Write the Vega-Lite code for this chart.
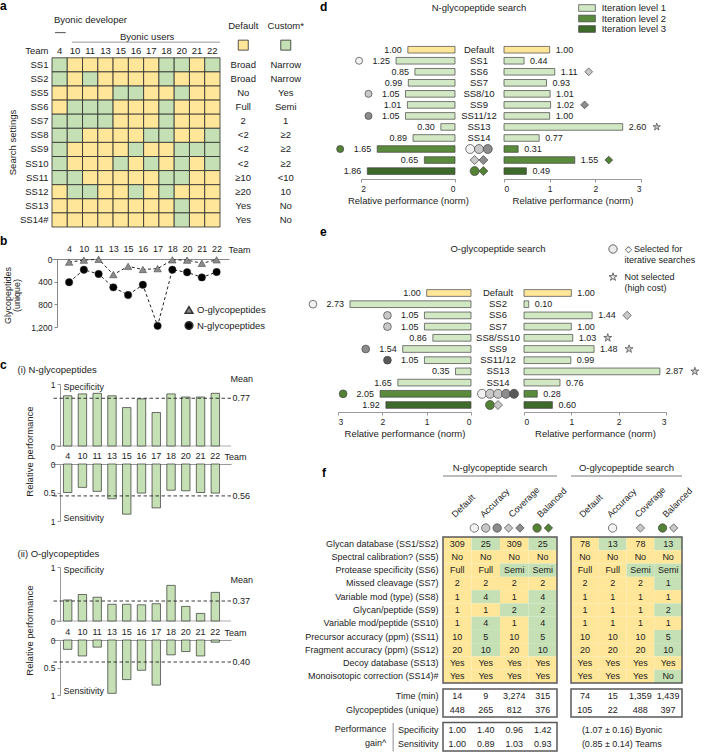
{
"$schema": "https://vega.github.io/schema/vega-lite/v6.json",
"padding": 0,
"background": "white",
"config": {
  "font": "Liberation Sans",
  "view": {"stroke": null},
  "axis": {"labelFontSize": 8.5, "titleFontSize": 9, "titleFontWeight": "normal", "labelColor": "#222", "titleColor": "#222", "domainColor": "#999", "tickColor": "#999", "grid": false, "labelFont": "Liberation Sans", "titleFont": "Liberation Sans"},
  "legend": {"labelFontSize": 9, "labelColor": "#222", "labelFont": "Liberation Sans"},
  "text": {"fontSize": 9, "color": "#222"},
  "title": {"fontSize": 12, "fontWeight": "bold", "anchor": "start", "frame": "group", "color": "#000"}
},
"datasets": {
  "grid": [
    {"t":"4","s":"SS1","c":"C"},{"t":"10","s":"SS1","c":"D"},{"t":"11","s":"SS1","c":"D"},{"t":"13","s":"SS1","c":"D"},{"t":"15","s":"SS1","c":"D"},{"t":"16","s":"SS1","c":"D"},{"t":"17","s":"SS1","c":"D"},{"t":"18","s":"SS1","c":"C"},{"t":"20","s":"SS1","c":"C"},{"t":"21","s":"SS1","c":"D"},{"t":"22","s":"SS1","c":"C"},
    {"t":"4","s":"SS2","c":"C"},{"t":"10","s":"SS2","c":"D"},{"t":"11","s":"SS2","c":"C"},{"t":"13","s":"SS2","c":"D"},{"t":"15","s":"SS2","c":"D"},{"t":"16","s":"SS2","c":"D"},{"t":"17","s":"SS2","c":"D"},{"t":"18","s":"SS2","c":"C"},{"t":"20","s":"SS2","c":"D"},{"t":"21","s":"SS2","c":"D"},{"t":"22","s":"SS2","c":"D"},
    {"t":"4","s":"SS5","c":"D"},{"t":"10","s":"SS5","c":"D"},{"t":"11","s":"SS5","c":"D"},{"t":"13","s":"SS5","c":"D"},{"t":"15","s":"SS5","c":"C"},{"t":"16","s":"SS5","c":"C"},{"t":"17","s":"SS5","c":"D"},{"t":"18","s":"SS5","c":"D"},{"t":"20","s":"SS5","c":"C"},{"t":"21","s":"SS5","c":"D"},{"t":"22","s":"SS5","c":"D"},
    {"t":"4","s":"SS6","c":"D"},{"t":"10","s":"SS6","c":"C"},{"t":"11","s":"SS6","c":"C"},{"t":"13","s":"SS6","c":"C"},{"t":"15","s":"SS6","c":"D"},{"t":"16","s":"SS6","c":"D"},{"t":"17","s":"SS6","c":"D"},{"t":"18","s":"SS6","c":"C"},{"t":"20","s":"SS6","c":"D"},{"t":"21","s":"SS6","c":"D"},{"t":"22","s":"SS6","c":"D"},
    {"t":"4","s":"SS7","c":"C"},{"t":"10","s":"SS7","c":"C"},{"t":"11","s":"SS7","c":"C"},{"t":"13","s":"SS7","c":"C"},{"t":"15","s":"SS7","c":"D"},{"t":"16","s":"SS7","c":"D"},{"t":"17","s":"SS7","c":"D"},{"t":"18","s":"SS7","c":"C"},{"t":"20","s":"SS7","c":"D"},{"t":"21","s":"SS7","c":"D"},{"t":"22","s":"SS7","c":"D"},
    {"t":"4","s":"SS8","c":"C"},{"t":"10","s":"SS8","c":"C"},{"t":"11","s":"SS8","c":"D"},{"t":"13","s":"SS8","c":"D"},{"t":"15","s":"SS8","c":"D"},{"t":"16","s":"SS8","c":"D"},{"t":"17","s":"SS8","c":"C"},{"t":"18","s":"SS8","c":"C"},{"t":"20","s":"SS8","c":"D"},{"t":"21","s":"SS8","c":"D"},{"t":"22","s":"SS8","c":"C"},
    {"t":"4","s":"SS9","c":"C"},{"t":"10","s":"SS9","c":"D"},{"t":"11","s":"SS9","c":"D"},{"t":"13","s":"SS9","c":"D"},{"t":"15","s":"SS9","c":"D"},{"t":"16","s":"SS9","c":"C"},{"t":"17","s":"SS9","c":"D"},{"t":"18","s":"SS9","c":"D"},{"t":"20","s":"SS9","c":"C"},{"t":"21","s":"SS9","c":"C"},{"t":"22","s":"SS9","c":"C"},
    {"t":"4","s":"SS10","c":"C"},{"t":"10","s":"SS10","c":"D"},{"t":"11","s":"SS10","c":"D"},{"t":"13","s":"SS10","c":"D"},{"t":"15","s":"SS10","c":"C"},{"t":"16","s":"SS10","c":"D"},{"t":"17","s":"SS10","c":"C"},{"t":"18","s":"SS10","c":"D"},{"t":"20","s":"SS10","c":"C"},{"t":"21","s":"SS10","c":"D"},{"t":"22","s":"SS10","c":"C"},
    {"t":"4","s":"SS11","c":"C"},{"t":"10","s":"SS11","c":"C"},{"t":"11","s":"SS11","c":"D"},{"t":"13","s":"SS11","c":"D"},{"t":"15","s":"SS11","c":"D"},{"t":"16","s":"SS11","c":"D"},{"t":"17","s":"SS11","c":"D"},{"t":"18","s":"SS11","c":"C"},{"t":"20","s":"SS11","c":"C"},{"t":"21","s":"SS11","c":"D"},{"t":"22","s":"SS11","c":"D"},
    {"t":"4","s":"SS12","c":"D"},{"t":"10","s":"SS12","c":"C"},{"t":"11","s":"SS12","c":"C"},{"t":"13","s":"SS12","c":"D"},{"t":"15","s":"SS12","c":"D"},{"t":"16","s":"SS12","c":"C"},{"t":"17","s":"SS12","c":"D"},{"t":"18","s":"SS12","c":"C"},{"t":"20","s":"SS12","c":"D"},{"t":"21","s":"SS12","c":"D"},{"t":"22","s":"SS12","c":"D"},
    {"t":"4","s":"SS13","c":"D"},{"t":"10","s":"SS13","c":"D"},{"t":"11","s":"SS13","c":"D"},{"t":"13","s":"SS13","c":"D"},{"t":"15","s":"SS13","c":"D"},{"t":"16","s":"SS13","c":"D"},{"t":"17","s":"SS13","c":"D"},{"t":"18","s":"SS13","c":"D"},{"t":"20","s":"SS13","c":"C"},{"t":"21","s":"SS13","c":"D"},{"t":"22","s":"SS13","c":"D"},
    {"t":"4","s":"SS14#","c":"D"},{"t":"10","s":"SS14#","c":"D"},{"t":"11","s":"SS14#","c":"D"},{"t":"13","s":"SS14#","c":"D"},{"t":"15","s":"SS14#","c":"D"},{"t":"16","s":"SS14#","c":"D"},{"t":"17","s":"SS14#","c":"D"},{"t":"18","s":"SS14#","c":"D"},{"t":"20","s":"SS14#","c":"C"},{"t":"21","s":"SS14#","c":"D"},{"t":"22","s":"SS14#","c":"D"}
  ],
  "akey": [
    {"s":"SS1","col":"Default","txt":"Broad"},{"s":"SS1","col":"Custom*","txt":"Narrow"},
    {"s":"SS2","col":"Default","txt":"Broad"},{"s":"SS2","col":"Custom*","txt":"Narrow"},
    {"s":"SS5","col":"Default","txt":"No"},{"s":"SS5","col":"Custom*","txt":"Yes"},
    {"s":"SS6","col":"Default","txt":"Full"},{"s":"SS6","col":"Custom*","txt":"Semi"},
    {"s":"SS7","col":"Default","txt":"2"},{"s":"SS7","col":"Custom*","txt":"1"},
    {"s":"SS8","col":"Default","txt":"<2"},{"s":"SS8","col":"Custom*","txt":"≥2"},
    {"s":"SS9","col":"Default","txt":"<2"},{"s":"SS9","col":"Custom*","txt":"≥2"},
    {"s":"SS10","col":"Default","txt":"<2"},{"s":"SS10","col":"Custom*","txt":"≥2"},
    {"s":"SS11","col":"Default","txt":"≥10"},{"s":"SS11","col":"Custom*","txt":"<10"},
    {"s":"SS12","col":"Default","txt":"≥20"},{"s":"SS12","col":"Custom*","txt":"10"},
    {"s":"SS13","col":"Default","txt":"Yes"},{"s":"SS13","col":"Custom*","txt":"No"},
    {"s":"SS14#","col":"Default","txt":"Yes"},{"s":"SS14#","col":"Custom*","txt":"No"}
  ],
  "akeyhdr": [{"col":"Default","c":"D"},{"col":"Custom*","c":"C"}],
  "glyco": [
    {"team":"4","type":"O-glycopeptides","n":55},{"team":"10","type":"O-glycopeptides","n":20},{"team":"11","type":"O-glycopeptides","n":5},{"team":"13","type":"O-glycopeptides","n":275},{"team":"15","type":"O-glycopeptides","n":130},{"team":"16","type":"O-glycopeptides","n":185},{"team":"17","type":"O-glycopeptides","n":170},{"team":"18","type":"O-glycopeptides","n":15},{"team":"20","type":"O-glycopeptides","n":20},{"team":"21","type":"O-glycopeptides","n":75},{"team":"22","type":"O-glycopeptides","n":15},
    {"team":"4","type":"N-glycopeptides","n":410},{"team":"10","type":"N-glycopeptides","n":190},{"team":"11","type":"N-glycopeptides","n":265},{"team":"13","type":"N-glycopeptides","n":500},{"team":"15","type":"N-glycopeptides","n":635},{"team":"16","type":"N-glycopeptides","n":455},{"team":"17","type":"N-glycopeptides","n":1180},{"team":"18","type":"N-glycopeptides","n":190},{"team":"20","type":"N-glycopeptides","n":235},{"team":"21","type":"N-glycopeptides","n":325},{"team":"22","type":"N-glycopeptides","n":230}
  ],
  "cNs": [{"team":"4","v":0.81},{"team":"10","v":0.84},{"team":"11","v":0.85},{"team":"13","v":0.81},{"team":"15","v":0.62},{"team":"16","v":0.76},{"team":"17","v":0.54},{"team":"18","v":0.84},{"team":"20","v":0.79},{"team":"21","v":0.79},{"team":"22","v":0.85}],
  "cNn": [{"team":"4","v":0.50},{"team":"10","v":0.41},{"team":"11","v":0.48},{"team":"13","v":0.61},{"team":"15","v":0.88},{"team":"16","v":0.51},{"team":"17","v":0.77},{"team":"18","v":0.46},{"team":"20","v":0.47},{"team":"21","v":0.50},{"team":"22","v":0.51}],
  "cOs": [{"team":"4","v":0.39},{"team":"10","v":0.49},{"team":"11","v":0.44},{"team":"13","v":0.31},{"team":"15","v":0.31},{"team":"16","v":0.30},{"team":"17","v":0.32},{"team":"18","v":0.66},{"team":"20","v":0.27},{"team":"21","v":0.14},{"team":"22","v":0.53}],
  "cOn": [{"team":"4","v":0.17},{"team":"10","v":0.29},{"team":"11","v":0.13},{"team":"13","v":0.97},{"team":"15","v":0.72},{"team":"16","v":0.55},{"team":"17","v":0.82},{"team":"18","v":0.27},{"team":"20","v":0.21},{"team":"21","v":0.29},{"team":"22","v":0.04}],
  "mNs": [{"v":0.77}], "mNn": [{"v":0.56}], "mOs": [{"v":0.37}], "mOn": [{"v":0.40}],
  "d": [
    {"row":"Default","spec":1.00,"sens":1.00,"level":"Default"},
    {"row":"SS1","spec":1.25,"sens":0.44,"level":"Iteration level 1"},
    {"row":"SS6","spec":0.85,"sens":1.11,"level":"Iteration level 1"},
    {"row":"SS7","spec":0.99,"sens":0.93,"level":"Iteration level 1"},
    {"row":"SS8/10","spec":1.05,"sens":1.01,"level":"Iteration level 1"},
    {"row":"SS9","spec":1.01,"sens":1.02,"level":"Iteration level 1"},
    {"row":"SS11/12","spec":1.05,"sens":1.00,"level":"Iteration level 1"},
    {"row":"SS13","spec":0.30,"sens":2.60,"level":"Iteration level 1"},
    {"row":"SS14","spec":0.89,"sens":0.77,"level":"Iteration level 1"},
    {"row":"L2a","spec":1.65,"sens":0.31,"level":"Iteration level 2"},
    {"row":"L2b","spec":0.65,"sens":1.55,"level":"Iteration level 2"},
    {"row":"L3","spec":1.86,"sens":0.49,"level":"Iteration level 3"}
  ],
  "dMS": [
    {"row":"SS1","val":1.25,"shape":"circle","shade":"white"},
    {"row":"SS8/10","val":1.05,"shape":"circle","shade":"light"},
    {"row":"SS11/12","val":1.05,"shape":"circle","shade":"mid"},
    {"row":"L2a","val":1.65,"shape":"circle","shade":"green"}
  ],
  "dMR": [
    {"row":"SS6","val":1.11,"shape":"diamond","shade":"light"},
    {"row":"SS9","val":1.02,"shape":"diamond","shade":"mid"},
    {"row":"SS13","val":2.60,"shape":"star","shade":"light"},
    {"row":"L2b","val":1.55,"shape":"diamond","shade":"green"}
  ],
  "dMM": [
    {"row":"L2a","slot":"a","shape":"circle","shade":"white"},
    {"row":"L2a","slot":"b","shape":"circle","shade":"light"},
    {"row":"L2a","slot":"c","shape":"circle","shade":"mid"},
    {"row":"L2b","slot":"p","shape":"diamond","shade":"light"},
    {"row":"L2b","slot":"q","shape":"diamond","shade":"mid"},
    {"row":"L3","slot":"p","shape":"circle","shade":"green"},
    {"row":"L3","slot":"q","shape":"diamond","shade":"green"}
  ],
  "e": [
    {"row":"Default","spec":1.00,"sens":1.00,"level":"Default"},
    {"row":"SS2","spec":2.73,"sens":0.10,"level":"Iteration level 1"},
    {"row":"SS6","spec":1.05,"sens":1.44,"level":"Iteration level 1"},
    {"row":"SS7","spec":1.05,"sens":1.00,"level":"Iteration level 1"},
    {"row":"SS8/SS10","spec":0.86,"sens":1.03,"level":"Iteration level 1"},
    {"row":"SS9","spec":1.54,"sens":1.48,"level":"Iteration level 1"},
    {"row":"SS11/12","spec":1.05,"sens":0.99,"level":"Iteration level 1"},
    {"row":"SS13","spec":0.35,"sens":2.87,"level":"Iteration level 1"},
    {"row":"SS14","spec":1.65,"sens":0.76,"level":"Iteration level 1"},
    {"row":"L2","spec":2.05,"sens":0.28,"level":"Iteration level 2"},
    {"row":"L3","spec":1.92,"sens":0.60,"level":"Iteration level 3"}
  ],
  "eMS": [
    {"row":"SS2","val":2.73,"shape":"circle","shade":"white"},
    {"row":"SS6","val":1.05,"shape":"circle","shade":"light"},
    {"row":"SS7","val":1.05,"shape":"circle","shade":"light"},
    {"row":"SS9","val":1.54,"shape":"circle","shade":"mid"},
    {"row":"SS11/12","val":1.05,"shape":"circle","shade":"dark"},
    {"row":"L2","val":2.05,"shape":"circle","shade":"green"}
  ],
  "eMR": [
    {"row":"SS6","val":1.44,"shape":"diamond","shade":"light"},
    {"row":"SS8/SS10","val":1.03,"shape":"star","shade":"light"},
    {"row":"SS9","val":1.48,"shape":"star","shade":"light"},
    {"row":"SS13","val":2.87,"shape":"star","shade":"light"}
  ],
  "eMM": [
    {"row":"L2","slot":"a","shape":"circle","shade":"white"},
    {"row":"L2","slot":"b","shape":"circle","shade":"light"},
    {"row":"L2","slot":"c","shape":"circle","shade":"light"},
    {"row":"L2","slot":"d","shape":"circle","shade":"mid"},
    {"row":"L2","slot":"e","shape":"circle","shade":"dark"},
    {"row":"L3","slot":"b","shape":"circle","shade":"green"},
    {"row":"L3","slot":"c","shape":"diamond","shade":"light"}
  ],
  "fcols": [{"c":"Default"},{"c":"Accuracy"},{"c":"Coverage"},{"c":"Balanced"}],
  "fMark": [
    {"t":"N","c":"Accuracy","slot":"a","shape":"circle","shade":"white"},
    {"t":"N","c":"Accuracy","slot":"b","shape":"circle","shade":"light"},
    {"t":"N","c":"Accuracy","slot":"c","shape":"circle","shade":"mid"},
    {"t":"N","c":"Coverage","slot":"p","shape":"diamond","shade":"light"},
    {"t":"N","c":"Coverage","slot":"q","shape":"diamond","shade":"mid"},
    {"t":"N","c":"Balanced","slot":"p","shape":"circle","shade":"green"},
    {"t":"N","c":"Balanced","slot":"q","shape":"diamond","shade":"green"},
    {"t":"O","c":"Accuracy","slot":"b","shape":"circle","shade":"white"},
    {"t":"O","c":"Coverage","slot":"b","shape":"diamond","shade":"light"},
    {"t":"O","c":"Balanced","slot":"p","shape":"circle","shade":"green"},
    {"t":"O","c":"Balanced","slot":"q","shape":"diamond","shade":"light"}
  ],
  "fTab": [
    {"t":"N","r":"Glycan database (SS1/SS2)","c":"Default","v":"309","k":"D"},{"t":"N","r":"Glycan database (SS1/SS2)","c":"Accuracy","v":"25","k":"C"},{"t":"N","r":"Glycan database (SS1/SS2)","c":"Coverage","v":"309","k":"D"},{"t":"N","r":"Glycan database (SS1/SS2)","c":"Balanced","v":"25","k":"C"},
    {"t":"N","r":"Spectral calibration? (SS5)","c":"Default","v":"No","k":"D"},{"t":"N","r":"Spectral calibration? (SS5)","c":"Accuracy","v":"No","k":"D"},{"t":"N","r":"Spectral calibration? (SS5)","c":"Coverage","v":"No","k":"D"},{"t":"N","r":"Spectral calibration? (SS5)","c":"Balanced","v":"No","k":"D"},
    {"t":"N","r":"Protease specificity (SS6)","c":"Default","v":"Full","k":"D"},{"t":"N","r":"Protease specificity (SS6)","c":"Accuracy","v":"Full","k":"D"},{"t":"N","r":"Protease specificity (SS6)","c":"Coverage","v":"Semi","k":"C"},{"t":"N","r":"Protease specificity (SS6)","c":"Balanced","v":"Semi","k":"C"},
    {"t":"N","r":"Missed cleavage (SS7)","c":"Default","v":"2","k":"D"},{"t":"N","r":"Missed cleavage (SS7)","c":"Accuracy","v":"2","k":"D"},{"t":"N","r":"Missed cleavage (SS7)","c":"Coverage","v":"2","k":"D"},{"t":"N","r":"Missed cleavage (SS7)","c":"Balanced","v":"2","k":"D"},
    {"t":"N","r":"Variable mod (type) (SS8)","c":"Default","v":"1","k":"D"},{"t":"N","r":"Variable mod (type) (SS8)","c":"Accuracy","v":"4","k":"C"},{"t":"N","r":"Variable mod (type) (SS8)","c":"Coverage","v":"1","k":"D"},{"t":"N","r":"Variable mod (type) (SS8)","c":"Balanced","v":"4","k":"C"},
    {"t":"N","r":"Glycan/peptide (SS9)","c":"Default","v":"1","k":"D"},{"t":"N","r":"Glycan/peptide (SS9)","c":"Accuracy","v":"1","k":"D"},{"t":"N","r":"Glycan/peptide (SS9)","c":"Coverage","v":"2","k":"C"},{"t":"N","r":"Glycan/peptide (SS9)","c":"Balanced","v":"2","k":"C"},
    {"t":"N","r":"Variable mod/peptide (SS10)","c":"Default","v":"1","k":"D"},{"t":"N","r":"Variable mod/peptide (SS10)","c":"Accuracy","v":"4","k":"C"},{"t":"N","r":"Variable mod/peptide (SS10)","c":"Coverage","v":"1","k":"D"},{"t":"N","r":"Variable mod/peptide (SS10)","c":"Balanced","v":"4","k":"C"},
    {"t":"N","r":"Precursor accuracy (ppm) (SS11)","c":"Default","v":"10","k":"D"},{"t":"N","r":"Precursor accuracy (ppm) (SS11)","c":"Accuracy","v":"5","k":"C"},{"t":"N","r":"Precursor accuracy (ppm) (SS11)","c":"Coverage","v":"10","k":"D"},{"t":"N","r":"Precursor accuracy (ppm) (SS11)","c":"Balanced","v":"5","k":"C"},
    {"t":"N","r":"Fragment accuracy (ppm) (SS12)","c":"Default","v":"20","k":"D"},{"t":"N","r":"Fragment accuracy (ppm) (SS12)","c":"Accuracy","v":"10","k":"C"},{"t":"N","r":"Fragment accuracy (ppm) (SS12)","c":"Coverage","v":"20","k":"D"},{"t":"N","r":"Fragment accuracy (ppm) (SS12)","c":"Balanced","v":"10","k":"C"},
    {"t":"N","r":"Decoy database (SS13)","c":"Default","v":"Yes","k":"D"},{"t":"N","r":"Decoy database (SS13)","c":"Accuracy","v":"Yes","k":"D"},{"t":"N","r":"Decoy database (SS13)","c":"Coverage","v":"Yes","k":"D"},{"t":"N","r":"Decoy database (SS13)","c":"Balanced","v":"Yes","k":"D"},
    {"t":"N","r":"Monoisotopic correction (SS14)#","c":"Default","v":"Yes","k":"D"},{"t":"N","r":"Monoisotopic correction (SS14)#","c":"Accuracy","v":"Yes","k":"D"},{"t":"N","r":"Monoisotopic correction (SS14)#","c":"Coverage","v":"Yes","k":"D"},{"t":"N","r":"Monoisotopic correction (SS14)#","c":"Balanced","v":"Yes","k":"D"},
    {"t":"O","r":"Glycan database (SS1/SS2)","c":"Default","v":"78","k":"D"},{"t":"O","r":"Glycan database (SS1/SS2)","c":"Accuracy","v":"13","k":"C"},{"t":"O","r":"Glycan database (SS1/SS2)","c":"Coverage","v":"78","k":"D"},{"t":"O","r":"Glycan database (SS1/SS2)","c":"Balanced","v":"13","k":"C"},
    {"t":"O","r":"Spectral calibration? (SS5)","c":"Default","v":"No","k":"D"},{"t":"O","r":"Spectral calibration? (SS5)","c":"Accuracy","v":"No","k":"D"},{"t":"O","r":"Spectral calibration? (SS5)","c":"Coverage","v":"No","k":"D"},{"t":"O","r":"Spectral calibration? (SS5)","c":"Balanced","v":"No","k":"D"},
    {"t":"O","r":"Protease specificity (SS6)","c":"Default","v":"Full","k":"D"},{"t":"O","r":"Protease specificity (SS6)","c":"Accuracy","v":"Full","k":"D"},{"t":"O","r":"Protease specificity (SS6)","c":"Coverage","v":"Semi","k":"C"},{"t":"O","r":"Protease specificity (SS6)","c":"Balanced","v":"Semi","k":"C"},
    {"t":"O","r":"Missed cleavage (SS7)","c":"Default","v":"2","k":"D"},{"t":"O","r":"Missed cleavage (SS7)","c":"Accuracy","v":"2","k":"D"},{"t":"O","r":"Missed cleavage (SS7)","c":"Coverage","v":"2","k":"D"},{"t":"O","r":"Missed cleavage (SS7)","c":"Balanced","v":"1","k":"C"},
    {"t":"O","r":"Variable mod (type) (SS8)","c":"Default","v":"1","k":"D"},{"t":"O","r":"Variable mod (type) (SS8)","c":"Accuracy","v":"1","k":"D"},{"t":"O","r":"Variable mod (type) (SS8)","c":"Coverage","v":"1","k":"D"},{"t":"O","r":"Variable mod (type) (SS8)","c":"Balanced","v":"1","k":"D"},
    {"t":"O","r":"Glycan/peptide (SS9)","c":"Default","v":"1","k":"D"},{"t":"O","r":"Glycan/peptide (SS9)","c":"Accuracy","v":"1","k":"D"},{"t":"O","r":"Glycan/peptide (SS9)","c":"Coverage","v":"1","k":"D"},{"t":"O","r":"Glycan/peptide (SS9)","c":"Balanced","v":"2","k":"C"},
    {"t":"O","r":"Variable mod/peptide (SS10)","c":"Default","v":"1","k":"D"},{"t":"O","r":"Variable mod/peptide (SS10)","c":"Accuracy","v":"1","k":"D"},{"t":"O","r":"Variable mod/peptide (SS10)","c":"Coverage","v":"1","k":"D"},{"t":"O","r":"Variable mod/peptide (SS10)","c":"Balanced","v":"1","k":"D"},
    {"t":"O","r":"Precursor accuracy (ppm) (SS11)","c":"Default","v":"10","k":"D"},{"t":"O","r":"Precursor accuracy (ppm) (SS11)","c":"Accuracy","v":"10","k":"D"},{"t":"O","r":"Precursor accuracy (ppm) (SS11)","c":"Coverage","v":"10","k":"D"},{"t":"O","r":"Precursor accuracy (ppm) (SS11)","c":"Balanced","v":"5","k":"C"},
    {"t":"O","r":"Fragment accuracy (ppm) (SS12)","c":"Default","v":"20","k":"D"},{"t":"O","r":"Fragment accuracy (ppm) (SS12)","c":"Accuracy","v":"20","k":"D"},{"t":"O","r":"Fragment accuracy (ppm) (SS12)","c":"Coverage","v":"20","k":"D"},{"t":"O","r":"Fragment accuracy (ppm) (SS12)","c":"Balanced","v":"10","k":"C"},
    {"t":"O","r":"Decoy database (SS13)","c":"Default","v":"Yes","k":"D"},{"t":"O","r":"Decoy database (SS13)","c":"Accuracy","v":"Yes","k":"D"},{"t":"O","r":"Decoy database (SS13)","c":"Coverage","v":"Yes","k":"D"},{"t":"O","r":"Decoy database (SS13)","c":"Balanced","v":"Yes","k":"D"},
    {"t":"O","r":"Monoisotopic correction (SS14)#","c":"Default","v":"Yes","k":"D"},{"t":"O","r":"Monoisotopic correction (SS14)#","c":"Accuracy","v":"Yes","k":"D"},{"t":"O","r":"Monoisotopic correction (SS14)#","c":"Coverage","v":"Yes","k":"D"},{"t":"O","r":"Monoisotopic correction (SS14)#","c":"Balanced","v":"No","k":"C"}
  ],
  "fTime": [
    {"t":"N","r":"Time (min)","c":"Default","v":"14"},{"t":"N","r":"Time (min)","c":"Accuracy","v":"9"},{"t":"N","r":"Time (min)","c":"Coverage","v":"3,274"},{"t":"N","r":"Time (min)","c":"Balanced","v":"315"},
    {"t":"N","r":"Glycopeptides (unique)","c":"Default","v":"448"},{"t":"N","r":"Glycopeptides (unique)","c":"Accuracy","v":"265"},{"t":"N","r":"Glycopeptides (unique)","c":"Coverage","v":"812"},{"t":"N","r":"Glycopeptides (unique)","c":"Balanced","v":"376"},
    {"t":"O","r":"Time (min)","c":"Default","v":"74"},{"t":"O","r":"Time (min)","c":"Accuracy","v":"15"},{"t":"O","r":"Time (min)","c":"Coverage","v":"1,359"},{"t":"O","r":"Time (min)","c":"Balanced","v":"1,439"},
    {"t":"O","r":"Glycopeptides (unique)","c":"Default","v":"105"},{"t":"O","r":"Glycopeptides (unique)","c":"Accuracy","v":"22"},{"t":"O","r":"Glycopeptides (unique)","c":"Coverage","v":"488"},{"t":"O","r":"Glycopeptides (unique)","c":"Balanced","v":"397"}
  ],
  "fPerf": [
    {"r":"Specificity","c":"Default","v":"1.00"},{"r":"Specificity","c":"Accuracy","v":"1.40"},{"r":"Specificity","c":"Coverage","v":"0.96"},{"r":"Specificity","c":"Balanced","v":"1.42"},
    {"r":"Sensitivity","c":"Default","v":"1.00"},{"r":"Sensitivity","c":"Accuracy","v":"0.89"},{"r":"Sensitivity","c":"Coverage","v":"1.03"},{"r":"Sensitivity","c":"Balanced","v":"0.93"}
  ],
  "fPerfO": [{"r":"Specificity","v":"(1.07 ± 0.16) Byonic"},{"r":"Sensitivity","v":"(0.85 ± 0.14) Teams"}]
},
"columns": 2,
"bounds": "flush",
"align": "each",
"spacing": {"row": 0, "column": 31},
"resolve": {
  "scale": {"fill": "independent", "shape": "independent", "color": "independent", "stroke": "independent", "xOffset": "independent", "size": "independent", "opacity": "independent"},
  "legend": {"fill": "independent", "shape": "independent", "color": "independent", "stroke": "independent"}
},
"concat": [
{
  "width": 255, "height": 244,
  "title": {"text": "a", "dx": -52, "offset": 8, "dy": 6},
  "layer": [
    {"layer": [
      {"data": {"name": "grid"},
       "mark": {"type": "rect", "stroke": "#2b2b2b", "strokeWidth": 0.8},
       "encoding": {
         "x": {"field": "t", "type": "ordinal", "scale": {"domain": ["4","10","11","13","15","16","17","18","20","21","22"], "range": [0, 168], "paddingInner": 0, "paddingOuter": 0}, "axis": null},
         "y": {"field": "s", "type": "ordinal", "scale": {"domain": ["h1","h2","key","SS1","SS2","SS5","SS6","SS7","SS8","SS9","SS10","SS11","SS12","SS13","SS14#"], "range": [0.5, 212], "paddingInner": 0, "paddingOuter": 0},
           "axis": {"domain": false, "ticks": false, "labelPadding": 4, "labelFontSize": 9.5, "labelExpr": "datum.value == 'key' ? 'Team' : ((datum.value == 'h1' || datum.value == 'h2') ? '' : datum.value)", "title": "Search settings", "titleFontSize": 9.5, "titleX": -40, "titleY": 127, "titleAngle": 270, "titleAlign": "center", "titleBaseline": "middle"}},
         "fill": {"field": "c", "type": "nominal", "scale": {"domain": ["D","C"], "range": ["#FFE699","#C5E0B4"]}, "legend": null}
       }},
      {"data": {"name": "grid"}, "transform": [{"filter": "datum.s == 'SS1'"}],
       "mark": {"type": "text", "fontSize": 9.5},
       "encoding": {"x": {"field": "t", "type": "ordinal"}, "y": {"datum": "key", "type": "ordinal"}, "text": {"field": "t"}}},
      {"data": {"values": [{}]},
       "mark": {"type": "text", "text": "Byonic developer", "align": "left", "dx": 2, "dy": -2.5, "fontSize": 9.5},
       "encoding": {"x": {"datum": "4", "type": "ordinal", "bandPosition": 0}, "y": {"datum": "h1", "type": "ordinal"}}},
      {"data": {"values": [{}]},
       "mark": {"type": "rule", "stroke": "#222", "strokeWidth": 0.8, "yOffset": -4},
       "encoding": {"x": {"datum": "4", "type": "ordinal", "bandPosition": 0.2}, "x2": {"datum": "4", "bandPosition": 0.9}, "y": {"datum": "h2", "type": "ordinal"}}},
      {"data": {"values": [{}]},
       "mark": {"type": "text", "text": "Byonic users", "align": "left", "fontSize": 9.5},
       "encoding": {"x": {"datum": "15", "type": "ordinal", "bandPosition": 0.45}, "y": {"datum": "h2", "type": "ordinal"}}},
      {"data": {"values": [{}]},
       "mark": {"type": "rule", "stroke": "#999", "strokeWidth": 1, "yOffset": 5.5},
       "encoding": {"x": {"datum": "10", "type": "ordinal", "bandPosition": 0.3}, "x2": {"datum": "22", "bandPosition": 1}, "y": {"datum": "h2", "type": "ordinal"}}}
    ]},
    {"layer": [
      {"data": {"name": "akey"},
       "mark": {"type": "text", "fontSize": 9.5},
       "encoding": {"x": {"field": "col", "type": "nominal", "scale": {"domain": ["Default","Custom*"], "range": [170, 255], "paddingInner": 0, "paddingOuter": 0}, "axis": null}, "y": {"field": "s", "type": "ordinal"}, "text": {"field": "txt"}}},
      {"data": {"name": "akeyhdr"},
       "mark": {"type": "text", "fontSize": 9.5, "dy": 3.5},
       "encoding": {"x": {"field": "col", "type": "nominal"}, "y": {"datum": "h1", "type": "ordinal"}, "text": {"field": "col"}}},
      {"data": {"name": "akeyhdr"},
       "mark": {"type": "square", "size": 100, "stroke": "#2b2b2b", "strokeWidth": 0.8, "opacity": 1, "yOffset": 8.5},
       "encoding": {"x": {"field": "col", "type": "nominal"}, "y": {"datum": "h2", "type": "ordinal"}, "fill": {"field": "c", "type": "nominal"}}}
    ]}
  ],
  "resolve": {"scale": {"x": "independent"}}
},
{
  "width": 303, "height": 244,
  "title": {"text": "d", "dx": -18, "offset": 7.5, "dy": 18},
  "encoding": {"y": {"field": "row", "type": "nominal", "scale": {"domain": ["Default","SS1","SS6","SS7","SS8/10","SS9","SS11/12","SS13","SS14","L2a","L2b","L3"], "range": [29.2, 161.6], "paddingInner": 0.4, "paddingOuter": 0.2}, "axis": null}},
  "layer": [
    {"encoding": {"x": {"field": "spec", "type": "quantitative", "scale": {"domain": [0, 2], "range": [117, 22.7], "nice": false}, "axis": {"orient": "bottom", "values": [0, 1, 2], "format": "d", "offset": -80, "tickSize": 3, "labelPadding": 2, "title": "Relative performance (norm)", "titlePadding": 3, "titleFontSize": 9.5}}},
     "layer": [
      {"data": {"name": "d"}, "mark": {"type": "bar", "stroke": "#444", "strokeWidth": 0.7},
       "encoding": {"color": {"field": "level", "type": "nominal", "scale": {"domain": ["Default","Iteration level 1","Iteration level 2","Iteration level 3"], "range": ["#FFE699","#D2E7C3","#5A8A3C","#3E6A2A"]},
         "legend": {"orient": "none", "legendX": 244, "legendY": -12, "title": null, "values": ["Iteration level 1","Iteration level 2","Iteration level 3"], "symbolType": "M-2,-0.8H2V0.8H-2Z", "symbolSize": 70, "symbolStrokeColor": "#444", "symbolStrokeWidth": 0.7, "labelOffset": 9.7, "rowPadding": 0.5, "labelFontSize": 9.5, "padding": 0}}}},
      {"data": {"name": "d"}, "mark": {"type": "text", "align": "right", "dx": -6}, "encoding": {"text": {"field": "spec", "format": ".2f"}}},
      {"data": {"values": [{}]}, "mark": {"type": "rule", "strokeDash": [3, 2], "color": "#5d7f45", "strokeWidth": 0.8},
       "encoding": {"x": {"datum": 1, "type": "quantitative"}, "y": {"datum": "Default", "type": "nominal", "bandPosition": 0}, "y2": {"datum": "L3", "bandPosition": 1}}},
      {"data": {"name": "dMS"}, "mark": {"type": "point", "filled": true, "stroke": "#444", "strokeWidth": 0.7, "size": 50, "opacity": 1, "xOffset": -37},
       "encoding": {"x": {"field": "val", "type": "quantitative"},
         "shape": {"field": "shape", "type": "nominal", "scale": {"domain": ["circle","diamond","star"], "range": ["circle","diamond","M0,-1L0.2245,-0.309L0.9511,-0.309L0.3633,0.118L0.5878,0.809L0,0.382L-0.5878,0.809L-0.3633,0.118L-0.9511,-0.309L-0.2245,-0.309Z"]}, "legend": null},
         "fill": {"field": "shade", "type": "nominal", "scale": {"domain": ["white","light","mid","dark","green"], "range": ["#F2F2F2","#C8C8C8","#8C8C8C","#595959","#548235"]}, "legend": null}}},
      {"data": {"values": [{}]}, "mark": {"type": "text", "text": ["Specificity", "(accuracy)"], "align": "right", "baseline": "top", "dx": -2, "dy": -31.5, "lineHeight": 10, "fontSize": 9.5},
       "encoding": {"x": {"datum": 0, "type": "quantitative"}, "y": {"datum": "Default", "type": "nominal"}}}
     ]},
    {"encoding": {"x": {"field": "slot", "type": "ordinal", "scale": {"type": "point", "domain": ["a","p","b","q","c"], "range": [130, 152]}, "axis": null}},
     "layer": [
      {"data": {"name": "d"}, "transform": [{"filter": "datum.level == 'Default' || datum.level == 'Iteration level 1'"}],
       "mark": {"type": "text", "fontSize": 9.5},
       "encoding": {"x": {"datum": "b", "type": "ordinal"}, "text": {"field": "row"}}},
      {"data": {"name": "dMM"}, "mark": {"type": "point", "filled": true, "stroke": "#444", "strokeWidth": 0.7, "size": 80, "opacity": 1},
       "encoding": {"shape": {"field": "shape", "type": "nominal", "legend": null}, "fill": {"field": "shade", "type": "nominal", "legend": null}}},
      {"data": {"values": [{}]}, "mark": {"type": "text", "text": "N-glycopeptide search", "dy": -41.5, "fontSize": 9.5},
       "encoding": {"x": {"datum": "b", "type": "ordinal"}, "y": {"datum": "Default", "type": "nominal"}}}
     ]},
    {"encoding": {"x": {"field": "sens", "type": "quantitative", "scale": {"domain": [0, 3], "range": [166, 303], "nice": false}, "axis": {"orient": "bottom", "values": [0, 1, 2, 3], "format": "d", "offset": -80, "tickSize": 3, "labelPadding": 2, "title": "Relative performance (norm)", "titlePadding": 3, "titleFontSize": 9.5}}},
     "layer": [
      {"data": {"name": "d"}, "mark": {"type": "bar", "stroke": "#444", "strokeWidth": 0.7},
       "encoding": {"color": {"field": "level", "type": "nominal"}}},
      {"data": {"name": "d"}, "mark": {"type": "text", "align": "left", "dx": 6}, "encoding": {"text": {"field": "sens", "format": ".2f"}}},
      {"data": {"values": [{}]}, "mark": {"type": "rule", "strokeDash": [3, 2], "color": "#5d7f45", "strokeWidth": 0.8},
       "encoding": {"x": {"datum": 1, "type": "quantitative"}, "y": {"datum": "Default", "type": "nominal", "bandPosition": 0}, "y2": {"datum": "L3", "bandPosition": 1}}},
      {"data": {"name": "dMR"}, "mark": {"type": "point", "filled": true, "stroke": "#444", "strokeWidth": 0.7, "size": 60, "opacity": 1, "xOffset": 34},
       "encoding": {"x": {"field": "val", "type": "quantitative"}, "shape": {"field": "shape", "type": "nominal", "legend": null}, "fill": {"field": "shade", "type": "nominal", "legend": null}}},
      {"data": {"values": [{}]}, "mark": {"type": "text", "text": ["Sensitivity", "(coverage)"], "align": "left", "baseline": "top", "dx": 2, "dy": -31.5, "lineHeight": 10, "fontSize": 9.5},
       "encoding": {"x": {"datum": 0, "type": "quantitative"}, "y": {"datum": "Default", "type": "nominal"}}}
     ]}
  ],
  "resolve": {"scale": {"x": "independent"}}
},
{
  "width": 177, "height": 125,
  "title": {"text": "b", "dx": -52, "offset": 7, "dy": 11},
  "data": {"name": "glyco"},
  "encoding": {
    "x": {"field": "team", "type": "ordinal", "scale": {"type": "point", "domain": ["4","10","11","13","15","16","17","18","20","21","22"], "padding": 1.06, "align": 0.58},
      "axis": {"orient": "top", "ticks": false, "tickSize": 0, "labelPadding": 6, "labelAngle": 0, "labelFontSize": 9, "domain": true, "domainColor": "#888", "title": "Team", "titleX": 176, "titleY": -10, "titleAlign": "left", "titleBaseline": "middle", "titleFontSize": 9}},
    "y": {"field": "n", "type": "quantitative", "scale": {"domain": [0, 1200], "range": [0, 68], "nice": false},
      "axis": {"values": [0, 400, 800, 1200], "format": ",.0f", "offset": -5, "tickSize": 3, "labelPadding": 2, "domainColor": "#888", "tickColor": "#888", "title": ["Glycopeptides", "(unique)"], "titleX": -50, "titleY": 36, "titleAngle": 270, "titleAlign": "center", "titleBaseline": "middle", "titleFontSize": 9, "titleLineHeight": 9.5}}
  },
  "layer": [
    {"mark": {"type": "line", "strokeDash": [3, 2.5], "strokeWidth": 1, "stroke": "#222"},
     "encoding": {"detail": {"field": "type", "type": "nominal"}, "order": {"value": null}}},
    {"mark": {"type": "point", "filled": true, "stroke": "#333", "strokeWidth": 0.5, "opacity": 1, "size": 55},
     "encoding": {
       "shape": {"field": "type", "type": "nominal", "scale": {"domain": ["O-glycopeptides","N-glycopeptides"], "range": ["triangle-up","circle"]}, "legend": {"orient": "none", "legendX": 132, "legendY": 46, "title": null, "symbolSize": 60, "labelOffset": 3, "rowPadding": 1.5, "labelFontSize": 9.5, "padding": 0}},
       "color": {"field": "type", "type": "nominal", "scale": {"domain": ["O-glycopeptides","N-glycopeptides"], "range": ["#8c8c8c","#000000"]}, "legend": {"orient": "none", "legendX": 132, "legendY": 46, "title": null, "symbolSize": 60, "labelOffset": 3, "rowPadding": 1.5, "labelFontSize": 9.5, "padding": 0}}
     }}
  ]
},
{
  "width": 328, "height": 125,
  "title": {"text": "e", "dx": -18, "offset": 22, "dy": 17},
  "encoding": {"y": {"field": "row", "type": "nominal", "scale": {"domain": ["Default","SS2","SS6","SS7","SS8/SS10","SS9","SS11/12","SS13","SS14","L2","L3"], "range": [28.4, 151.6], "paddingInner": 0.4, "paddingOuter": 0.2}, "axis": null}},
  "layer": [
    {"encoding": {"x": {"field": "spec", "type": "quantitative", "scale": {"domain": [0, 3], "range": [133, 0], "nice": false}, "axis": {"orient": "bottom", "values": [0, 1, 2, 3], "format": "d", "offset": 28, "tickSize": 3, "labelPadding": 2, "title": "Relative performance (norm)", "titlePadding": 3, "titleFontSize": 9.5}}},
     "layer": [
      {"data": {"name": "e"}, "mark": {"type": "bar", "stroke": "#444", "strokeWidth": 0.7},
       "encoding": {"color": {"field": "level", "type": "nominal", "scale": {"domain": ["Default","Iteration level 1","Iteration level 2","Iteration level 3"], "range": ["#FFE699","#D2E7C3","#5A8A3C","#3E6A2A"]}, "legend": null}}},
      {"data": {"name": "e"}, "mark": {"type": "text", "align": "right", "dx": -6}, "encoding": {"text": {"field": "spec", "format": ".2f"}}},
      {"data": {"values": [{}]}, "mark": {"type": "rule", "strokeDash": [3, 2], "color": "#5d7f45", "strokeWidth": 0.8},
       "encoding": {"x": {"datum": 1, "type": "quantitative"}, "y": {"datum": "Default", "type": "nominal", "bandPosition": 0}, "y2": {"datum": "L3", "bandPosition": 1}}},
      {"data": {"name": "eMS"}, "mark": {"type": "point", "filled": true, "stroke": "#444", "strokeWidth": 0.7, "size": 60, "opacity": 1, "xOffset": -37},
       "encoding": {"x": {"field": "val", "type": "quantitative"},
         "shape": {"field": "shape", "type": "nominal", "scale": {"domain": ["circle","diamond","star"], "range": ["circle","diamond","M0,-1L0.2245,-0.309L0.9511,-0.309L0.3633,0.118L0.5878,0.809L0,0.382L-0.5878,0.809L-0.3633,0.118L-0.9511,-0.309L-0.2245,-0.309Z"]},
           "legend": {"orient": "none", "legendX": 270, "legendY": -15, "title": null, "values": ["circle","star"], "labelExpr": "datum.value == 'circle' ? ['◇ Selected for', '\u00a0\u00a0\u00a0\u00a0iterative searches'] : ['\u00a0\u00a0\u00a0\u00a0Not selected', '\u00a0\u00a0\u00a0\u00a0(high cost)']", "symbolFillColor": "#EBEBEB", "symbolStrokeColor": "#444", "symbolStrokeWidth": 0.8, "symbolSize": 70, "labelOffset": 6.6, "rowPadding": 6, "labelFontSize": 9, "padding": 0}},
         "fill": {"field": "shade", "type": "nominal", "scale": {"domain": ["white","light","mid","dark","green"], "range": ["#F2F2F2","#C8C8C8","#8C8C8C","#595959","#548235"]}, "legend": null}}},
      {"data": {"values": [{}]}, "mark": {"type": "text", "text": ["Specificity", "(accuracy)"], "align": "right", "baseline": "top", "dx": -2, "dy": -29.5, "lineHeight": 11, "fontSize": 9.5},
       "encoding": {"x": {"datum": 0, "type": "quantitative"}, "y": {"datum": "Default", "type": "nominal"}}}
     ]},
    {"encoding": {"x": {"field": "slot", "type": "ordinal", "scale": {"type": "point", "domain": ["a","b","c","d","e"], "range": [140, 180]}, "axis": null}},
     "layer": [
      {"data": {"name": "e"}, "transform": [{"filter": "datum.level == 'Default' || datum.level == 'Iteration level 1'"}],
       "mark": {"type": "text", "fontSize": 9.5},
       "encoding": {"x": {"datum": "c", "type": "ordinal"}, "text": {"field": "row"}}},
      {"data": {"name": "eMM"}, "mark": {"type": "point", "filled": true, "stroke": "#444", "strokeWidth": 0.7, "size": 80, "opacity": 1},
       "encoding": {"shape": {"field": "shape", "type": "nominal"}, "fill": {"field": "shade", "type": "nominal", "legend": null}}},
      {"data": {"values": [{}]}, "mark": {"type": "text", "text": "O-glycopeptide search", "dy": -44, "fontSize": 9.5},
       "encoding": {"x": {"datum": "c", "type": "ordinal"}, "y": {"datum": "Default", "type": "nominal"}}}
     ]},
    {"encoding": {"x": {"field": "sens", "type": "quantitative", "scale": {"domain": [0, 3], "range": [186, 328], "nice": false}, "axis": {"orient": "bottom", "values": [0, 1, 2, 3], "format": "d", "offset": 28, "tickSize": 3, "labelPadding": 2, "title": "Relative performance (norm)", "titlePadding": 3, "titleFontSize": 9.5}}},
     "layer": [
      {"data": {"name": "e"}, "mark": {"type": "bar", "stroke": "#444", "strokeWidth": 0.7},
       "encoding": {"color": {"field": "level", "type": "nominal", "legend": null}}},
      {"data": {"name": "e"}, "mark": {"type": "text", "align": "left", "dx": 6}, "encoding": {"text": {"field": "sens", "format": ".2f"}}},
      {"data": {"values": [{}]}, "mark": {"type": "rule", "strokeDash": [3, 2], "color": "#5d7f45", "strokeWidth": 0.8},
       "encoding": {"x": {"datum": 1, "type": "quantitative"}, "y": {"datum": "Default", "type": "nominal", "bandPosition": 0}, "y2": {"datum": "L3", "bandPosition": 1}}},
      {"data": {"name": "eMR"}, "mark": {"type": "point", "filled": true, "stroke": "#444", "strokeWidth": 0.7, "size": 70, "opacity": 1, "xOffset": 35},
       "encoding": {"x": {"field": "val", "type": "quantitative"}, "shape": {"field": "shape", "type": "nominal"}, "fill": {"field": "shade", "type": "nominal", "legend": null}}},
      {"data": {"values": [{}]}, "mark": {"type": "text", "text": ["Sensitivity", "(coverage)"], "align": "left", "baseline": "top", "dx": 3, "dy": -29.5, "lineHeight": 11, "fontSize": 9.5},
       "encoding": {"x": {"datum": 0, "type": "quantitative"}, "y": {"datum": "Default", "type": "nominal"}}}
     ]}
  ],
  "resolve": {"scale": {"x": "independent"}}
},
{
  "width": 179, "height": 80,
  "title": {"text": "c", "dx": -52, "offset": 14, "dy": 22},
  "layer": [
    {"data": {"values": [{}]}, "mark": {"type": "rule", "color": "#999", "strokeWidth": 0.8}, "encoding": {"y": {"datum": 0, "type": "quantitative"}}},
    {"data": {"name": "cNs"}, "mark": {"type": "bar", "fill": "#C5E0B4", "stroke": "#333", "strokeWidth": 0.7},
     "encoding": {
       "x": {"field": "team", "type": "ordinal", "scale": {"domain": ["4","10","11","13","15","16","17","18","20","21","22"], "paddingInner": 0.43, "paddingOuter": 0.776},
         "axis": {"orient": "top", "labels": false, "ticks": false, "domain": false, "title": "(i) N-glycopeptides", "titleX": -35, "titleY": -15, "titleAlign": "left", "titleBaseline": "middle", "titleFontSize": 9.5}},
       "y": {"field": "v", "type": "quantitative", "scale": {"domain": [0, 1], "range": [62, 0], "nice": false},
         "axis": {"values": [0, 0.5, 1], "format": "~g", "offset": -8, "tickSize": 3, "labelPadding": 2, "title": "Relative performance", "titleX": -31, "titleY": 67, "titleAngle": 270, "titleAlign": "center", "titleBaseline": "middle", "titleFontSize": 9.5}}}},
    {"data": {"name": "mNs"}, "mark": {"type": "rule", "strokeDash": [3.5, 2.5], "color": "#222", "strokeWidth": 0.9}, "encoding": {"y": {"field": "v", "type": "quantitative"}}},
    {"data": {"name": "mNs"}, "mark": {"type": "text", "align": "left", "dx": 13}, "encoding": {"x": {"datum": "22", "type": "ordinal", "bandPosition": 1}, "y": {"field": "v", "type": "quantitative"}, "text": {"field": "v", "format": ".2f"}}},
    {"data": {"name": "mNs"}, "mark": {"type": "text", "text": "Mean", "align": "left", "dx": 11, "dy": -19}, "encoding": {"x": {"datum": "22", "type": "ordinal", "bandPosition": 1}, "y": {"field": "v", "type": "quantitative"}}},
    {"data": {"values": [{}]}, "mark": {"type": "text", "text": "Specificity", "align": "left", "dy": 3}, "encoding": {"x": {"datum": "4", "type": "ordinal", "bandPosition": 0}, "y": {"datum": 1, "type": "quantitative"}}}
  ]
},
{
  "width": 344, "height": 80,
  "title": {"text": "f", "dx": -16, "offset": 0, "dy": 96},
  "layer": [
    {"layer": [
      {"data": {"values": [{}]}, "mark": {"type": "text", "text": "N-glycopeptide search", "fontSize": 9.5},
       "encoding": {"x": {"datum": "Accuracy", "type": "nominal", "bandPosition": 1, "scale": {"domain": ["Default","Accuracy","Coverage","Balanced"], "range": [105, 219], "paddingInner": 0, "paddingOuter": 0}, "axis": null},
         "y": {"datum": "ttl", "type": "ordinal", "scale": {"type": "point", "domain": ["ttl","mk"], "range": [84, 144], "padding": 0}, "axis": null}}},
      {"data": {"values": [{}]}, "mark": {"type": "rule", "stroke": "#a6a6a6", "strokeWidth": 1.5, "yOffset": 8},
       "encoding": {"x": {"datum": "Default", "type": "nominal", "bandPosition": 0}, "x2": {"datum": "Balanced", "bandPosition": 1}, "y": {"datum": "ttl", "type": "ordinal"}}},
      {"data": {"name": "fcols"}, "mark": {"type": "text", "angle": 315, "align": "left", "baseline": "middle", "xOffset": -4, "yOffset": -12, "fontSize": 9},
       "encoding": {"x": {"field": "c", "type": "nominal"}, "y": {"datum": "mk", "type": "ordinal"}, "text": {"field": "c"}}},
      {"data": {"name": "fMark"}, "transform": [{"filter": "datum.t == 'N'"}],
       "mark": {"type": "point", "filled": true, "stroke": "#444", "strokeWidth": 0.7, "size": 70, "opacity": 1},
       "encoding": {"x": {"field": "c", "type": "nominal"}, "xOffset": {"field": "slot", "type": "nominal", "scale": {"domain": ["a","p","b","q","c"]}}, "y": {"datum": "mk", "type": "ordinal"},
         "shape": {"field": "shape", "type": "nominal", "scale": {"domain": ["circle","diamond","star"], "range": ["circle","diamond","M0,-1L0.2245,-0.309L0.9511,-0.309L0.3633,0.118L0.5878,0.809L0,0.382L-0.5878,0.809L-0.3633,0.118L-0.9511,-0.309L-0.2245,-0.309Z"]}, "legend": null},
         "fill": {"field": "shade", "type": "nominal", "scale": {"domain": ["white","light","mid","dark","green"], "range": ["#F2F2F2","#C8C8C8","#8C8C8C","#595959","#548235"]}, "legend": null}}}
    ]},
    {"layer": [
      {"data": {"values": [{}]}, "mark": {"type": "text", "text": "O-glycopeptide search", "fontSize": 9.5},
       "encoding": {"x": {"datum": "Accuracy", "type": "nominal", "bandPosition": 1, "scale": {"domain": ["Default","Accuracy","Coverage","Balanced"], "range": [233, 344], "paddingInner": 0, "paddingOuter": 0}, "axis": null},
         "y": {"datum": "ttl", "type": "ordinal"}}},
      {"data": {"values": [{}]}, "mark": {"type": "rule", "stroke": "#a6a6a6", "strokeWidth": 1.5, "yOffset": 8},
       "encoding": {"x": {"datum": "Default", "type": "nominal", "bandPosition": 0}, "x2": {"datum": "Balanced", "bandPosition": 1}, "y": {"datum": "ttl", "type": "ordinal"}}},
      {"data": {"name": "fcols"}, "mark": {"type": "text", "angle": 315, "align": "left", "baseline": "middle", "xOffset": -4, "yOffset": -12, "fontSize": 9},
       "encoding": {"x": {"field": "c", "type": "nominal"}, "y": {"datum": "mk", "type": "ordinal"}, "text": {"field": "c"}}},
      {"data": {"name": "fMark"}, "transform": [{"filter": "datum.t == 'O'"}],
       "mark": {"type": "point", "filled": true, "stroke": "#444", "strokeWidth": 0.7, "size": 70, "opacity": 1},
       "encoding": {"x": {"field": "c", "type": "nominal"}, "xOffset": {"field": "slot", "type": "nominal", "scale": {"domain": ["a","p","b","q","c"]}}, "y": {"datum": "mk", "type": "ordinal"},
         "shape": {"field": "shape", "type": "nominal"}, "fill": {"field": "shade", "type": "nominal"}}}
    ]}
  ],
  "resolve": {"scale": {"x": "independent", "xOffset": "independent"}}
},
{
  "width": 179, "height": 103,
  "layer": [
    {"data": {"name": "cNn"}, "mark": {"type": "bar", "fill": "#C5E0B4", "stroke": "#333", "strokeWidth": 0.7},
     "encoding": {
       "x": {"field": "team", "type": "ordinal", "scale": {"domain": ["4","10","11","13","15","16","17","18","20","21","22"], "paddingInner": 0.43, "paddingOuter": 0.776},
         "axis": {"orient": "top", "ticks": false, "tickSize": 0, "labelPadding": 3.5, "labelAngle": 0, "labelFontSize": 9, "domain": true, "title": "Team", "titleX": 172, "titleY": -8, "titleAlign": "left", "titleBaseline": "middle", "titleFontSize": 9}},
       "y": {"field": "v", "type": "quantitative", "scale": {"domain": [0, 1], "range": [0, 57], "nice": false},
         "axis": {"values": [0, 0.5, 1], "format": "~g", "offset": -8, "tickSize": 3, "labelPadding": 2, "title": null}}}},
    {"data": {"name": "mNn"}, "mark": {"type": "rule", "strokeDash": [3.5, 2.5], "color": "#222", "strokeWidth": 0.9}, "encoding": {"y": {"field": "v", "type": "quantitative"}}},
    {"data": {"name": "mNn"}, "mark": {"type": "text", "align": "left", "dx": 13}, "encoding": {"x": {"datum": "22", "type": "ordinal", "bandPosition": 1}, "y": {"field": "v", "type": "quantitative"}, "text": {"field": "v", "format": ".2f"}}},
    {"data": {"values": [{}]}, "mark": {"type": "text", "text": "Sensitivity", "align": "left", "dy": -3}, "encoding": {"x": {"datum": "4", "type": "ordinal", "bandPosition": 0}, "y": {"datum": 1, "type": "quantitative"}}}
  ]
},
{
  "width": 344, "height": 103,
  "encoding": {"y": {"field": "r", "type": "nominal", "scale": {"domain": ["Glycan database (SS1/SS2)","Spectral calibration? (SS5)","Protease specificity (SS6)","Missed cleavage (SS7)","Variable mod (type) (SS8)","Glycan/peptide (SS9)","Variable mod/peptide (SS10)","Precursor accuracy (ppm) (SS11)","Fragment accuracy (ppm) (SS12)","Decoy database (SS13)","Monoisotopic correction (SS14)#"], "range": [73, 219], "paddingInner": 0, "paddingOuter": 0},
    "axis": {"offset": -105, "domain": false, "ticks": false, "tickSize": 0, "labelPadding": 5, "labelFontSize": 9, "labelLimit": 250, "title": null}}},
  "layer": [
    {"data": {"name": "fTab"}, "transform": [{"filter": "datum.t == 'N'"}],
     "encoding": {"x": {"field": "c", "type": "nominal", "scale": {"domain": ["Default","Accuracy","Coverage","Balanced"], "range": [105, 219], "paddingInner": 0, "paddingOuter": 0}, "axis": null}},
     "layer": [
      {"mark": {"type": "rect"}, "encoding": {"fill": {"field": "k", "type": "nominal", "scale": {"domain": ["D","C"], "range": ["#FFE699","#C5E0B4"]}, "legend": null}}},
      {"mark": {"type": "text"}, "encoding": {"text": {"field": "v"}}},
      {"data": {"values": [{}]}, "mark": {"type": "rect", "fillOpacity": 0, "stroke": "#595959", "strokeWidth": 1.5},
       "encoding": {"x": {"datum": "Default", "type": "nominal", "bandPosition": 0}, "x2": {"datum": "Balanced", "bandPosition": 1}, "y": {"datum": "Glycan database (SS1/SS2)", "type": "nominal", "bandPosition": 0}, "y2": {"datum": "Monoisotopic correction (SS14)#", "bandPosition": 1}}}
     ]},
    {"data": {"name": "fTab"}, "transform": [{"filter": "datum.t == 'O'"}],
     "encoding": {"x": {"field": "c", "type": "nominal", "scale": {"domain": ["Default","Accuracy","Coverage","Balanced"], "range": [233, 344], "paddingInner": 0, "paddingOuter": 0}, "axis": null}},
     "layer": [
      {"mark": {"type": "rect"}, "encoding": {"fill": {"field": "k", "type": "nominal"}}},
      {"mark": {"type": "text"}, "encoding": {"text": {"field": "v"}}},
      {"data": {"values": [{}]}, "mark": {"type": "rect", "fillOpacity": 0, "stroke": "#595959", "strokeWidth": 1.5},
       "encoding": {"x": {"datum": "Default", "type": "nominal", "bandPosition": 0}, "x2": {"datum": "Balanced", "bandPosition": 1}, "y": {"datum": "Glycan database (SS1/SS2)", "type": "nominal", "bandPosition": 0}, "y2": {"datum": "Monoisotopic correction (SS14)#", "bandPosition": 1}}}
     ]}
  ],
  "resolve": {"scale": {"x": "independent"}}
},
{
  "width": 179, "height": 73,
  "layer": [
    {"data": {"values": [{}]}, "mark": {"type": "rule", "color": "#999", "strokeWidth": 0.8}, "encoding": {"y": {"datum": 0, "type": "quantitative"}}},
    {"data": {"name": "cOs"}, "mark": {"type": "bar", "fill": "#C5E0B4", "stroke": "#333", "strokeWidth": 0.7},
     "encoding": {
       "x": {"field": "team", "type": "ordinal", "scale": {"domain": ["4","10","11","13","15","16","17","18","20","21","22"], "paddingInner": 0.43, "paddingOuter": 0.776},
         "axis": {"orient": "top", "labels": false, "ticks": false, "domain": false, "title": "(ii) O-glycopeptides", "titleX": -35, "titleY": -14, "titleAlign": "left", "titleBaseline": "middle", "titleFontSize": 9.5}},
       "y": {"field": "v", "type": "quantitative", "scale": {"domain": [0, 1], "range": [54, 0], "nice": false},
         "axis": {"values": [0, 0.5, 1], "format": "~g", "offset": -8, "tickSize": 3, "labelPadding": 2, "title": "Relative performance", "titleX": -31, "titleY": 63, "titleAngle": 270, "titleAlign": "center", "titleBaseline": "middle", "titleFontSize": 9.5}}}},
    {"data": {"name": "mOs"}, "mark": {"type": "rule", "strokeDash": [3.5, 2.5], "color": "#222", "strokeWidth": 0.9}, "encoding": {"y": {"field": "v", "type": "quantitative"}}},
    {"data": {"name": "mOs"}, "mark": {"type": "text", "align": "left", "dx": 13}, "encoding": {"x": {"datum": "22", "type": "ordinal", "bandPosition": 1}, "y": {"field": "v", "type": "quantitative"}, "text": {"field": "v", "format": ".2f"}}},
    {"data": {"name": "mOs"}, "mark": {"type": "text", "text": "Mean", "align": "left", "dx": 11, "dy": -21}, "encoding": {"x": {"datum": "22", "type": "ordinal", "bandPosition": 1}, "y": {"field": "v", "type": "quantitative"}}},
    {"data": {"values": [{}]}, "mark": {"type": "text", "text": "Specificity", "align": "left", "dy": 3}, "encoding": {"x": {"datum": "4", "type": "ordinal", "bandPosition": 0}, "y": {"datum": 1, "type": "quantitative"}}}
  ]
},
{
  "width": 344, "height": 73,
  "encoding": {"y": {"field": "r", "type": "nominal", "scale": {"domain": ["Time (min)","Glycopeptides (unique)"], "range": [122, 150], "paddingInner": 0, "paddingOuter": 0},
    "axis": {"offset": -105, "domain": false, "ticks": false, "tickSize": 0, "labelPadding": 5, "labelFontSize": 9, "labelLimit": 250, "title": null}}},
  "layer": [
    {"data": {"name": "fTime"}, "transform": [{"filter": "datum.t == 'N'"}],
     "encoding": {"x": {"field": "c", "type": "nominal", "scale": {"domain": ["Default","Accuracy","Coverage","Balanced"], "range": [105, 219], "paddingInner": 0, "paddingOuter": 0}, "axis": null}},
     "layer": [
      {"mark": {"type": "text"}, "encoding": {"text": {"field": "v"}}},
      {"data": {"values": [{}]}, "mark": {"type": "rect", "fillOpacity": 0, "stroke": "#595959", "strokeWidth": 1.5},
       "encoding": {"x": {"datum": "Default", "type": "nominal", "bandPosition": 0}, "x2": {"datum": "Balanced", "bandPosition": 1}, "y": {"datum": "Time (min)", "type": "nominal", "bandPosition": 0}, "y2": {"datum": "Glycopeptides (unique)", "bandPosition": 1}}}
     ]},
    {"data": {"name": "fTime"}, "transform": [{"filter": "datum.t == 'O'"}],
     "encoding": {"x": {"field": "c", "type": "nominal", "scale": {"domain": ["Default","Accuracy","Coverage","Balanced"], "range": [233, 344], "paddingInner": 0, "paddingOuter": 0}, "axis": null}},
     "layer": [
      {"mark": {"type": "text"}, "encoding": {"text": {"field": "v"}}},
      {"data": {"values": [{}]}, "mark": {"type": "rect", "fillOpacity": 0, "stroke": "#595959", "strokeWidth": 1.5},
       "encoding": {"x": {"datum": "Default", "type": "nominal", "bandPosition": 0}, "x2": {"datum": "Balanced", "bandPosition": 1}, "y": {"datum": "Time (min)", "type": "nominal", "bandPosition": 0}, "y2": {"datum": "Glycopeptides (unique)", "bandPosition": 1}}}
     ]}
  ],
  "resolve": {"scale": {"x": "independent"}}
},
{
  "width": 179, "height": 112,
  "layer": [
    {"data": {"name": "cOn"}, "mark": {"type": "bar", "fill": "#C5E0B4", "stroke": "#333", "strokeWidth": 0.7},
     "encoding": {
       "x": {"field": "team", "type": "ordinal", "scale": {"domain": ["4","10","11","13","15","16","17","18","20","21","22"], "paddingInner": 0.43, "paddingOuter": 0.776},
         "axis": {"orient": "top", "ticks": false, "tickSize": 0, "labelPadding": 3.5, "labelAngle": 0, "labelFontSize": 9, "domain": true, "title": "Team", "titleX": 172, "titleY": -8, "titleAlign": "left", "titleBaseline": "middle", "titleFontSize": 9}},
       "y": {"field": "v", "type": "quantitative", "scale": {"domain": [0, 1], "range": [0, 55], "nice": false},
         "axis": {"values": [0, 0.5, 1], "format": "~g", "offset": -8, "tickSize": 3, "labelPadding": 2, "title": null}}}},
    {"data": {"name": "mOn"}, "mark": {"type": "rule", "strokeDash": [3.5, 2.5], "color": "#222", "strokeWidth": 0.9}, "encoding": {"y": {"field": "v", "type": "quantitative"}}},
    {"data": {"name": "mOn"}, "mark": {"type": "text", "align": "left", "dx": 13}, "encoding": {"x": {"datum": "22", "type": "ordinal", "bandPosition": 1}, "y": {"field": "v", "type": "quantitative"}, "text": {"field": "v", "format": ".2f"}}},
    {"data": {"values": [{}]}, "mark": {"type": "text", "text": "Sensitivity", "align": "left", "dy": -4}, "encoding": {"x": {"datum": "4", "type": "ordinal", "bandPosition": 0}, "y": {"datum": 1, "type": "quantitative"}}}
  ]
},
{
  "width": 344, "height": 112,
  "encoding": {"y": {"field": "r", "type": "nominal", "scale": {"domain": ["Specificity","Sensitivity"], "range": [82.5, 111], "paddingInner": 0, "paddingOuter": 0},
    "axis": {"offset": -54.7, "domain": true, "domainColor": "#b5b5b5", "domainWidth": 1.5, "ticks": false, "tickSize": 0, "labelAlign": "right", "labelPadding": -45.3, "labelFontSize": 9,
      "title": ["Performance", "gain^"], "titleAngle": 0, "titleAlign": "right", "titleBaseline": "top", "titleX": -7, "titleY": 84.5, "titleLineHeight": 14, "titleFontSize": 9}}},
  "layer": [
    {"data": {"name": "fPerf"},
     "encoding": {"x": {"field": "c", "type": "nominal", "scale": {"domain": ["Default","Accuracy","Coverage","Balanced"], "range": [105, 219], "paddingInner": 0, "paddingOuter": 0}, "axis": null}},
     "layer": [
      {"mark": {"type": "text"}, "encoding": {"text": {"field": "v"}}},
      {"data": {"values": [{}]}, "mark": {"type": "rect", "fillOpacity": 0, "stroke": "#595959", "strokeWidth": 1.5},
       "encoding": {"x": {"datum": "Default", "type": "nominal", "bandPosition": 0}, "x2": {"datum": "Balanced", "bandPosition": 1}, "y": {"datum": "Specificity", "type": "nominal", "bandPosition": 0}, "y2": {"datum": "Sensitivity", "bandPosition": 1}}}
     ]},
    {"data": {"name": "fPerfO"},
     "mark": {"type": "text", "align": "left", "dx": -3},
     "encoding": {"x": {"datum": "Default", "type": "nominal", "bandPosition": 0, "scale": {"domain": ["Default","Accuracy","Coverage","Balanced"], "range": [233, 344], "paddingInner": 0, "paddingOuter": 0}, "axis": null}, "text": {"field": "v"}}}
  ],
  "resolve": {"scale": {"x": "independent"}}
}
]
}
